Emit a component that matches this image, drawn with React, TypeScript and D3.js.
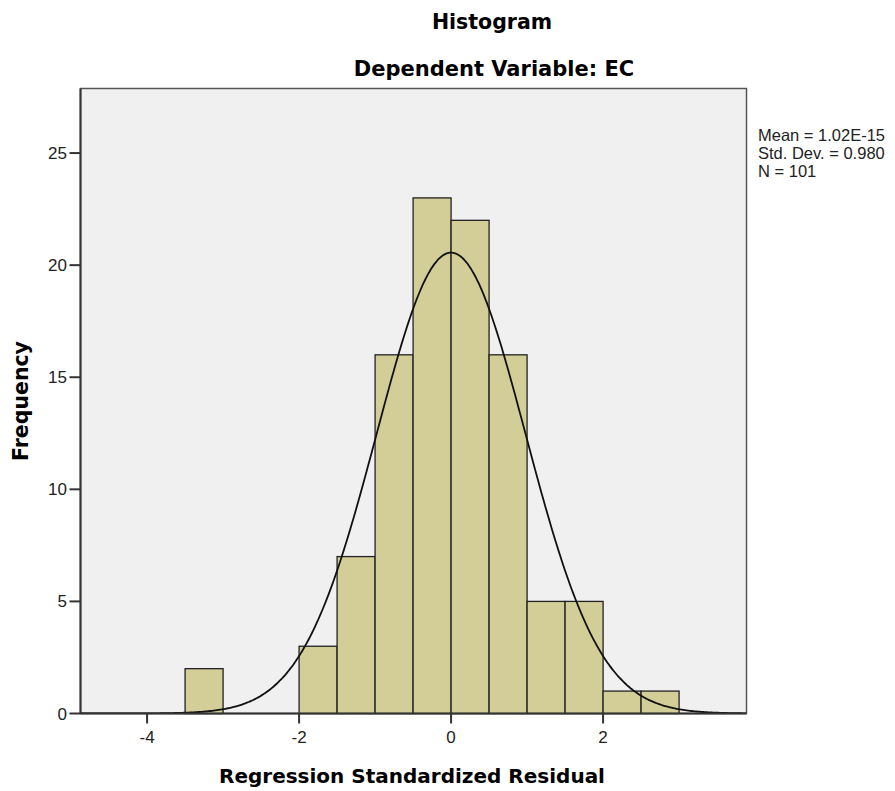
import React from "react";
import * as d3 from "d3";

const binStarts = [-3.5, -2.0, -1.5, -1.0, -0.5, 0.0, 0.5, 1.0, 1.5, 2.0, 2.5];
const binCounts = [2, 3, 7, 16, 23, 22, 16, 5, 5, 1, 1];
const binWidth = 0.5;
const xTicks = [-4, -2, 0, 2];
const yTicks = [0, 5, 10, 15, 20, 25];
const statsLines = ["Mean = 1.02E-15", "Std. Dev. = 0.980", "N = 101"];
const meanVal = 1.02e-15;
const sdVal = 0.98;
const nVal = 101;

export default function App() {
  const W = 895, H = 791;
  const left = 80.5, right = 746.5, top = 88.5, bottom = 713.5;
  const x = d3.scaleLinear().domain([-4.876, 3.887]).range([left, right]);
  const y = d3.scaleLinear().domain([0, 27.88]).range([bottom, top]);

  const curvePts: [number, number][] = [];
  const [x0, x1] = x.domain();
  for (let i = 0; i <= 400; i++) {
    const v = x0 + ((x1 - x0) * i) / 400;
    const dens =
      (nVal * binWidth) / (sdVal * Math.sqrt(2 * Math.PI)) *
      Math.exp(-0.5 * ((v - meanVal) / sdVal) ** 2);
    curvePts.push([v, dens]);
  }
  const line = d3
    .line<[number, number]>()
    .x((d) => x(d[0]))
    .y((d) => y(d[1]))
    .curve(d3.curveBasis);

  const bold = "'DejaVu Sans', sans-serif";
  const reg = "'Liberation Sans', Arial, sans-serif";

  return (
    <svg width={W} height={H} style={{ position: "absolute", left: 0, top: 0, background: "#fff" }}>
      <defs>
        <clipPath id="plotclip">
          <rect x={left} y={top} width={right - left} height={bottom - top} />
        </clipPath>
      </defs>
      <rect x={0} y={0} width={W} height={H} fill="#fff" />
      <text x={492} y={29} textAnchor="middle" fontFamily={bold} fontWeight="bold" fontSize={20.5} fill="#000">
        Histogram
      </text>
      <text x={494} y={76} textAnchor="middle" fontFamily={bold} fontWeight="bold" fontSize={21} fill="#000">
        Dependent Variable: EC
      </text>
      <rect x={left} y={top} width={right - left} height={bottom - top} fill="#F0F0F0" stroke="#555" strokeWidth={1.5} />
      <g>
        {binStarts.map((s, i) => (
          <rect
            key={i}
            x={x(s)}
            y={y(binCounts[i])}
            width={x(s + binWidth) - x(s)}
            height={y(0) - y(binCounts[i])}
            fill="#D3CE97"
            stroke="#222"
            strokeWidth={1.3}
          />
        ))}
      </g>
      <path d={line(curvePts) || ""} fill="none" stroke="#111" strokeWidth={1.8} clipPath="url(#plotclip)" />
      <line x1={left} x2={left} y1={top} y2={bottom} stroke="#333" strokeWidth={2} />
      <line x1={left} x2={right} y1={bottom} y2={bottom} stroke="#333" strokeWidth={2} />
      {yTicks.map((t) => (
        <g key={t}>
          <line x1={left - 11} x2={left} y1={y(t)} y2={y(t)} stroke="#333" strokeWidth={2} />
          <text x={67} y={y(t) + 6} textAnchor="end" fontFamily={reg} fontSize={17} fill="#222">
            {t}
          </text>
        </g>
      ))}
      {xTicks.map((t) => (
        <g key={t}>
          <line x1={x(t)} x2={x(t)} y1={bottom} y2={bottom + 10} stroke="#333" strokeWidth={2} />
          <text x={x(t)} y={743} textAnchor="middle" fontFamily={reg} fontSize={17} fill="#222">
            {t}
          </text>
        </g>
      ))}
      <text x={412} y={783} textAnchor="middle" fontFamily={bold} fontWeight="bold" fontSize={20} fill="#000">
        Regression Standardized Residual
      </text>
      <text
        transform={`translate(28, ${(top + bottom) / 2}) rotate(-90)`}
        textAnchor="middle"
        fontFamily={bold}
        fontWeight="bold"
        fontSize={20.5}
        fill="#000"
      >
        Frequency
      </text>
      {statsLines.map((s, i) => (
        <text key={i} x={758} y={141 + i * 17.8} fontFamily={reg} fontSize={16.5} fill="#222">
          {s}
        </text>
      ))}
    </svg>
  );
}
